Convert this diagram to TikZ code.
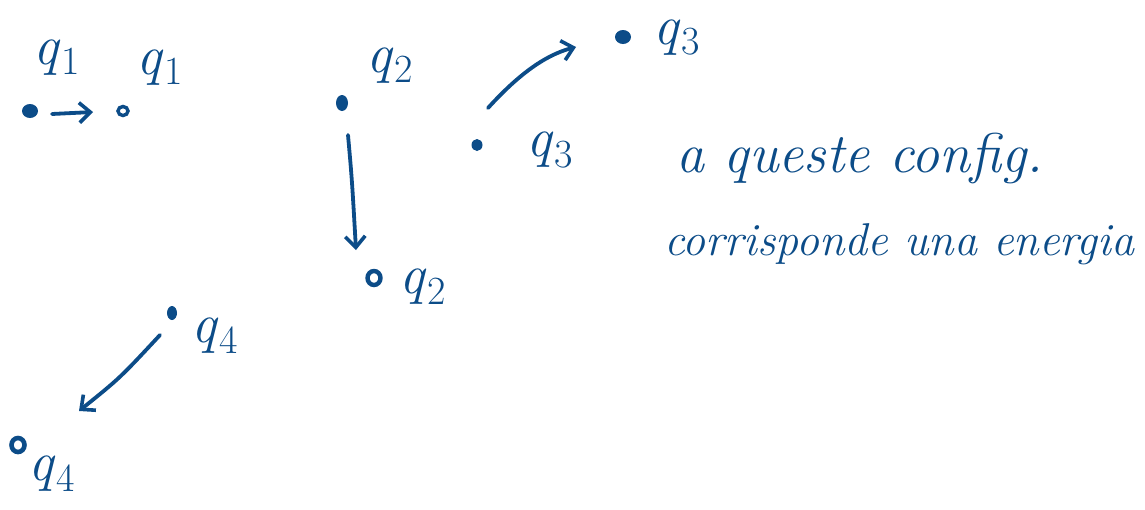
\documentclass[tikz,border=0pt]{standalone}
\usetikzlibrary{arrows.meta}
\definecolor{inkc}{RGB}{12,76,136}
\newcommand{\qlab}[1]{\textit{q}\kern1pt\raisebox{-0.18em}{\fontsize{40}{40}\selectfont #1}}
\begin{document}
\begin{tikzpicture}[x=1pt,y=-1pt,
  pen/.style={draw=inkc, line width=3.8pt, line cap=round},
  dotf/.style={fill=inkc},
  arr/.style={-{Straight Barb[length=11pt,width=20pt,line width=3.6pt]}},
  lbl/.style={text=inkc, font=\fontsize{56}{60}\selectfont, inner sep=0pt},
  txt/.style={text=inkc, font=\itshape, inner sep=0pt, anchor=west}]
\useasboundingbox (0,0) rectangle (1145,509);
% q1
\fill[dotf] (30,111) ellipse (8 and 7);
\node[lbl] (l1a) at (57,58) {\qlab{1}};
\coordinate (a1s) at (52,114);
\coordinate (a1e) at (93,112);
\draw[pen,arr] (a1s) -- (a1e);
\draw[pen, line width=3.4pt] (123,111) ellipse (5 and 4.5);
\node[lbl] (l1b) at (160,68) {\qlab{1}};
% q2
\fill[dotf] (342,103) ellipse (6 and 8);
\node[lbl] (l2a) at (390,66) {\qlab{2}};
\coordinate (a2s) at (348,135);
\coordinate (a2e) at (356,250);
\draw[pen,arr] (a2s) .. controls (352,180) .. (a2e);
\draw[pen, line width=4.4pt] (374,278) ellipse (6.5 and 7);
\node[lbl] (l2b) at (423,287) {\qlab{2}};
% q3
\fill[dotf] (477,145) ellipse (5.5 and 6);
\node[lbl] (l3a) at (550,150) {\qlab{3}};
\coordinate (a3s) at (488,108);
\coordinate (a3e) at (576,47);
\draw[pen,arr] (a3s) .. controls (518,75) and (545,55) .. (a3e);
\fill[dotf] (623,37) ellipse (8 and 7);
\node[lbl] (l3b) at (677,38) {\qlab{3}};
% q4
\fill[dotf] (172,313) ellipse (5 and 7);
\node[lbl] (l4a) at (215,336) {\qlab{4}};
\coordinate (a4s) at (160,335);
\coordinate (a4e) at (79,411);
\draw[pen,arr] (a4s) .. controls (120,378) .. (a4e);
\draw[pen, line width=4.6pt] (18,445) ellipse (6.5 and 7);
\node[lbl] (l4b) at (52,474) {\qlab{4}};
% text
\node[txt, font=\fontsize{56}{60}\selectfont\itshape] (t1) at (676,158) {a queste config.};
\node[txt, font=\fontsize{46}{50}\selectfont\itshape] (t2) at (664,244) {corrisponde una energia};
\end{tikzpicture}
\end{document}
